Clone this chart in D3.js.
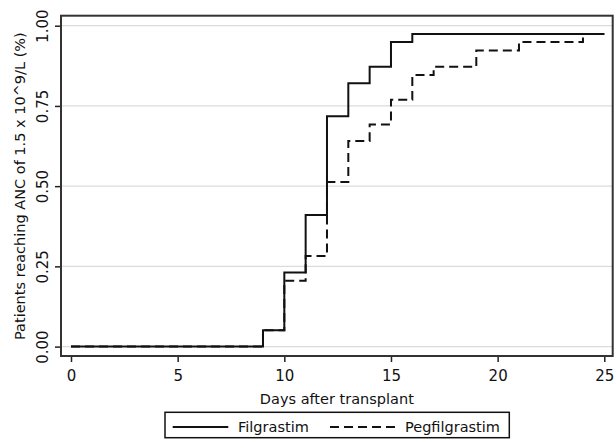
<!DOCTYPE html>
<html>
<head>
<meta charset="utf-8">
<script src="https://cdn.jsdelivr.net/npm/d3@7"></script>
<style>
  html, body { margin: 0; padding: 0; background: #fff; }
  svg { display: block; }
  text { font-family: "DejaVu Sans", Verdana, sans-serif; fill: #111; }
</style>
</head>
<body>
<svg id="chart" width="614" height="443"></svg>
<script>
// ---- Data ----
const filgrastimDays   = [0, 9, 10, 11, 12, 13, 14, 15, 16, 25];
const filgrastimValues = [0, 0.051, 0.231, 0.410, 0.718, 0.821, 0.872, 0.949, 0.974, 0.974];
const pegfilgrastimDays   = [0, 9, 10, 11, 12, 13, 14, 15, 16, 17, 19, 21, 24, 25];
const pegfilgrastimValues = [0, 0.051, 0.205, 0.282, 0.513, 0.641, 0.692, 0.769, 0.846, 0.872, 0.923, 0.949, 0.974, 0.974];
const xTicks = [0, 5, 10, 15, 20, 25];
const yTicks = [0, 0.25, 0.5, 0.75, 1];
const yTickLabels = ["0.00", "0.25", "0.50", "0.75", "1.00"];
const seriesNames = ["Filgrastim", "Pegfilgrastim"];
const xTitle = "Days after transplant";
const yTitle = "Patients reaching ANC of 1.5 x 10^9/L (%)";

// ---- Layout ----
const frame = { left: 61, right: 612.7, top: 15.7, bottom: 356 };
const svg = d3.select("#chart");

const x = d3.scaleLinear().domain([0, 25]).range([71, 604.3]);
const y = d3.scaleLinear().domain([0, 1]).range([346.6, 25.7]);

// gridlines
svg.append("g").selectAll("line").data(yTicks).join("line")
  .attr("x1", frame.left).attr("x2", frame.right)
  .attr("y1", d => y(d)).attr("y2", d => y(d))
  .attr("stroke", "#dcdcdc").attr("stroke-width", 1.2);

// x axis
const xAxis = d3.axisBottom(x).tickValues(xTicks).tickSize(6).tickPadding(8).tickFormat(d3.format("d"));
const gx = svg.append("g").attr("transform", `translate(0,${frame.bottom})`).call(xAxis);
gx.select(".domain").remove();
gx.selectAll(".tick line").attr("stroke", "#222").attr("stroke-width", 1.5);
gx.selectAll(".tick text").attr("font-size", 15).attr("font-family", "DejaVu Sans").attr("fill", "#111");

// y axis
const yAxis = d3.axisLeft(y).tickValues(yTicks).tickSize(6).tickFormat((d, i) => yTickLabels[i]);
const gy = svg.append("g").attr("transform", `translate(${frame.left},0)`).call(yAxis);
gy.select(".domain").remove();
gy.selectAll(".tick line").attr("stroke", "#222").attr("stroke-width", 1.5);
gy.selectAll(".tick text")
  .attr("font-size", 15).attr("font-family", "DejaVu Sans").attr("fill", "#111")
  .attr("text-anchor", "middle").attr("dy", null)
  .attr("x", null)
  .attr("transform", "translate(-13,0) rotate(-90)");

// frame
svg.append("rect")
  .attr("x", frame.left).attr("y", frame.top)
  .attr("width", frame.right - frame.left).attr("height", frame.bottom - frame.top)
  .attr("fill", "none").attr("stroke", "#333").attr("stroke-width", 2);

// lines
const line = d3.line().curve(d3.curveStepAfter).x(d => x(d[0])).y(d => y(d[1]));
const pegData = d3.zip(pegfilgrastimDays, pegfilgrastimValues);
const filData = d3.zip(filgrastimDays, filgrastimValues);

svg.append("path").datum(pegData).attr("d", line)
  .attr("fill", "none").attr("stroke", "#111").attr("stroke-width", 2)
  .attr("stroke-dasharray", "9,5");
svg.append("path").datum(filData).attr("d", line)
  .attr("fill", "none").attr("stroke", "#111").attr("stroke-width", 2);

// axis titles
svg.append("text").attr("x", (frame.left + frame.right) / 2).attr("y", 404)
  .attr("text-anchor", "middle").attr("font-size", 14.5).text(xTitle);
svg.append("text")
  .attr("transform", `translate(25,${(y(0) + y(1)) / 2}) rotate(-90)`)
  .attr("text-anchor", "middle").attr("font-size", 14.5).text(yTitle);

// legend
const lg = svg.append("g");
lg.append("rect").attr("x", 165).attr("y", 412.3).attr("width", 344.3).attr("height", 25.4)
  .attr("fill", "#fff").attr("stroke", "#111").attr("stroke-width", 1.5);
lg.append("line").attr("x1", 172.7).attr("x2", 228.3).attr("y1", 427).attr("y2", 427)
  .attr("stroke", "#111").attr("stroke-width", 2);
lg.append("text").attr("x", 238).attr("y", 432).attr("font-size", 14.5).text(seriesNames[0]);
lg.append("line").attr("x1", 330).attr("x2", 395).attr("y1", 427).attr("y2", 427)
  .attr("stroke", "#111").attr("stroke-width", 2).attr("stroke-dasharray", "9,5");
lg.append("text").attr("x", 405).attr("y", 432).attr("font-size", 14.5).text(seriesNames[1]);
</script>
</body>
</html>
